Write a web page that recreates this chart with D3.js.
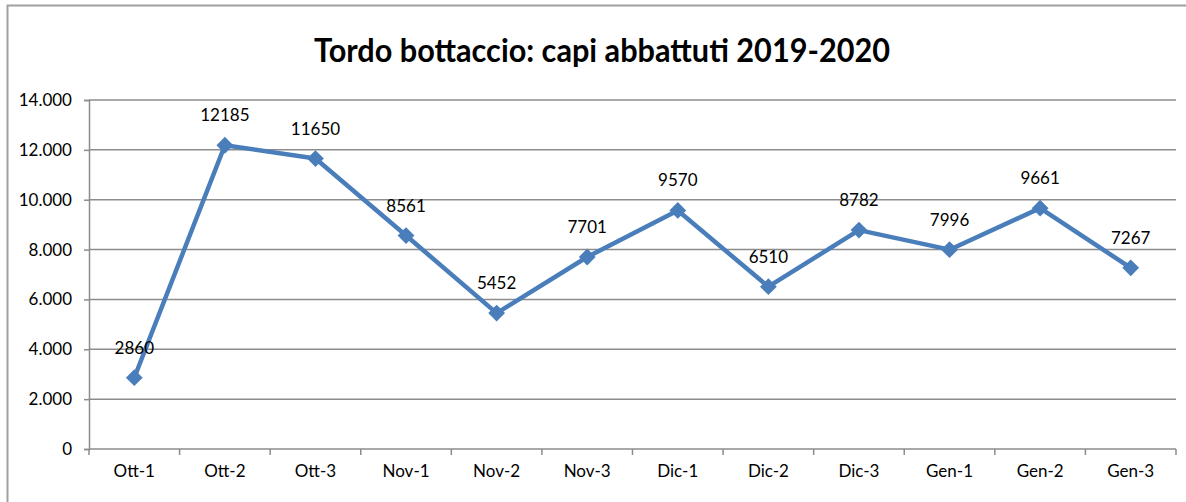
<!DOCTYPE html>
<html>
<head>
<meta charset="utf-8">
<script src="https://cdn.jsdelivr.net/npm/d3@7"></script>
<style>
  body { margin: 0; background: #fff; }
  svg { display: block; font-family: Lato, "Liberation Sans", sans-serif; }
</style>
</head>
<body>
<svg id="main-svg" width="1186" height="502"></svg>
<script>
// ----- //
// data
// ----- //
const title = "Tordo bottaccio: capi abbattuti 2019-2020";
const categories = ["Ott-1", "Ott-2", "Ott-3", "Nov-1", "Nov-2", "Nov-3",
                    "Dic-1", "Dic-2", "Dic-3", "Gen-1", "Gen-2", "Gen-3"];
const values = [2860, 12185, 11650, 8561, 5452, 7701, 9570, 6510, 8782, 7996, 9661, 7267];
const yTicks = [0, 2000, 4000, 6000, 8000, 10000, 12000, 14000];

// ----- //
// layout
// ----- //
const svg = d3.select("#main-svg");
const plotLeft = 89, plotRight = 1176, plotTop = 100, plotBottom = 449;
const blue = "#4a7ebb";
const grey = "#8c8c8c";

// italian style thousands separator
const it = d3.formatLocale({decimal: ",", thousands: ".", grouping: [3], currency: ["€", ""]});
const fmt = it.format(",d");

// outer frame
svg.append("rect")
    .attr("x", 7.5).attr("y", 5.5)
    .attr("width", 1200).attr("height", 520)
    .attr("fill", "none")
    .attr("stroke", "#a0a0a0")
    .attr("stroke-width", 2);

// title
svg.append("text")
    .attr("x", 602).attr("y", 62)
    .attr("text-anchor", "middle")
    .attr("font-size", 32)
    .attr("font-weight", "bold")
    .attr("fill", "#000")
    .attr("textLength", 576)
    .attr("lengthAdjust", "spacingAndGlyphs")
    .text(title);

// scales
const x = d3.scaleBand().domain(categories).range([plotLeft, plotRight]);
const y = d3.scaleLinear().domain([0, 14000]).range([plotBottom, plotTop]);

// gridlines
svg.append("g")
    .selectAll("line")
    .data(yTicks.filter(d => d > 0))
    .enter()
    .append("line")
    .attr("x1", plotLeft).attr("x2", plotRight)
    .attr("y1", d => y(d)).attr("y2", d => y(d))
    .attr("stroke", grey)
    .attr("stroke-width", 1.5);

// y axis
const yAxis = svg.append("g")
    .attr("transform", `translate(${plotLeft},0)`)
    .call(d3.axisLeft(y).tickValues(yTicks).tickFormat(fmt).tickSizeOuter(0).tickSize(5).tickPadding(12));
yAxis.select(".domain").attr("stroke", grey).attr("stroke-width", 1.5);
yAxis.selectAll(".tick line").attr("stroke", grey).attr("stroke-width", 1.5);
yAxis.selectAll("text").attr("font-size", 17).attr("fill", "#000").attr("font-family", "Lato, sans-serif");

// x axis: ticks sit on band boundaries
const xAxis = svg.append("g")
    .attr("transform", `translate(0,${plotBottom})`);
xAxis.append("line")
    .attr("x1", plotLeft).attr("x2", plotRight)
    .attr("stroke", grey).attr("stroke-width", 1.5);
xAxis.selectAll(".tk")
    .data(categories.concat(["end"]))
    .enter()
    .append("line")
    .attr("class", "tk")
    .attr("x1", (d, i) => i < categories.length ? x(d) : plotRight)
    .attr("x2", (d, i) => i < categories.length ? x(d) : plotRight)
    .attr("y1", 0).attr("y2", 6)
    .attr("stroke", grey).attr("stroke-width", 1.5);
xAxis.selectAll(".lbl")
    .data(categories)
    .enter()
    .append("text")
    .attr("class", "lbl")
    .attr("x", d => x(d) + x.bandwidth() / 2)
    .attr("y", 28)
    .attr("text-anchor", "middle")
    .attr("font-size", 17)
    .attr("fill", "#000")
    .text(d => d);

// line
const cx = (d, i) => x(categories[i]) + x.bandwidth() / 2;
const line = d3.line().x(cx).y(d => y(d));
svg.append("path")
    .datum(values)
    .attr("d", line)
    .attr("fill", "none")
    .attr("stroke", blue)
    .attr("stroke-width", 4.5)
    .attr("stroke-linejoin", "round");

// diamond markers
svg.append("g")
    .selectAll("path")
    .data(values)
    .enter()
    .append("path")
    .attr("d", d3.symbol().type(d3.symbolDiamond2).size(180))
    .attr("transform", (d, i) => `translate(${cx(d, i)},${y(d)})`)
    .attr("fill", blue);

// data labels
svg.append("g")
    .selectAll("text")
    .data(values)
    .enter()
    .append("text")
    .attr("x", (d, i) => cx(d, i))
    .attr("y", d => y(d) - 24)
    .attr("text-anchor", "middle")
    .attr("font-size", 17)
    .attr("fill", "#000")
    .text(d => d);
</script>
</body>
</html>
